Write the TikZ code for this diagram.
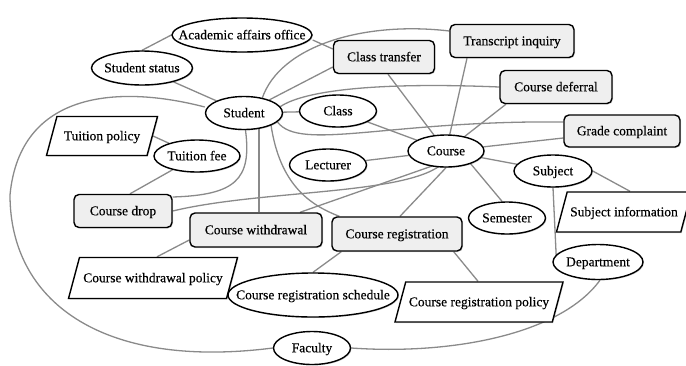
\documentclass[tikz,border=0pt]{standalone}
\usepackage{fontspec}
\setmainfont{Liberation Serif}
\newfontfamily\dfont[FakeBold=0.35]{Liberation Serif}
\usetikzlibrary{shapes.geometric,shadows,backgrounds,calc}
\definecolor{edgegray}{HTML}{8A8A8A}
\definecolor{boxgray}{HTML}{EFEFEF}
\newcommand\zt[1]{\makebox[0pt]{\raisebox{-4.3pt}[0pt][0pt]{#1}}}
\begin{document}
\begin{tikzpicture}[x=1pt,y=1pt,
 font=\dfont\fontsize{13.5}{16}\selectfont,
 base/.style={draw=black, line width=1.4pt, inner sep=0pt, fill=white,
   drop shadow={shadow xshift=1pt, shadow yshift=-1pt, opacity=0.3}},
 ent/.style={base, ellipse},
 act/.style={base, rectangle, rounded corners=5pt, fill=boxgray},
 doc/.style={base, trapezium, trapezium left angle=75, trapezium right angle=105,
   trapezium stretches body, text height=10.6pt, text depth=2pt, inner xsep=3pt},
 edge/.style={draw=edgegray, line width=1.3pt}
]
\useasboundingbox (0,0) rectangle (686,-365);

\node[ent, minimum width=140pt, minimum height=34pt] (aao) at (242,-35) {\zt{Academic affairs office}};
\node[ent, minimum width=101pt, minimum height=34pt] (status) at (142,-68) {\zt{Student status}};
\node[ent, minimum width=77pt, minimum height=33pt] (student) at (244,-113) {\zt{Student}};
\node[act, minimum width=101pt, minimum height=33pt] (ctrans) at (384,-57) {\zt{Class transfer}};
\node[act, minimum width=124pt, minimum height=33pt] (tinq) at (512,-41) {\zt{Transcript inquiry}};
\node[act, minimum width=112pt, minimum height=33pt] (cdef) at (556,-87) {\zt{Course deferral}};
\node[ent, minimum width=77pt, minimum height=32pt] (class) at (338,-111) {\zt{Class}};
\node[act, minimum width=116pt, minimum height=32pt] (grade) at (622,-131) {\zt{Grade complaint}};
\node[doc, minimum width=111pt, inner ysep=13.2pt] (tpol) at (102,-136) {Tuition policy};
\node[ent, minimum width=86pt, minimum height=32pt] (tfee) at (197,-156) {\zt{Tuition fee}};
\node[ent, minimum width=77pt, minimum height=32pt] (lect) at (328,-165) {\zt{Lecturer}};
\node[ent, minimum width=76pt, minimum height=32pt] (course) at (446,-151) {\zt{Course}};
\node[ent, minimum width=78pt, minimum height=32pt] (subject) at (553,-171) {\zt{Subject}};
\node[act, minimum width=98pt, minimum height=33pt] (cdrop) at (123,-211) {\zt{Course drop}};
\node[ent, minimum width=77pt, minimum height=32pt] (sem) at (507,-218) {\zt{Semester}};
\node[doc, minimum width=124pt, inner ysep=13.7pt] (sinfo) at (624,-212) {Subject information};
\node[act, minimum width=132pt, minimum height=34pt] (cwd) at (256,-230) {\zt{Course withdrawal}};
\node[act, minimum width=130pt, minimum height=34pt] (creg) at (397,-234) {\zt{Course registration}};
\node[ent, minimum width=90pt, minimum height=35pt] (dept) at (598,-262) {\zt{Department}};
\node[doc, minimum width=169pt, inner ysep=14.2pt] (cwdp) at (153,-278) {Course withdrawal policy};
\node[ent, minimum width=170pt, minimum height=44pt] (crs) at (313,-295) {\zt{Course registration schedule}};
\node[doc, minimum width=168pt, inner ysep=13.7pt] (crp) at (479,-302) {Course registration policy};
\node[ent, minimum width=77pt, minimum height=33pt] (fac) at (312,-348) {\zt{Faculty}};
\coordinate (loopL) at (10,-195);

\begin{pgfonlayer}{background}
\draw[edge] (status.north) -- (aao.west);
\draw[edge] ([yshift=-5pt]aao.east) -- ([yshift=8pt]ctrans.west);
\draw[edge] (status) -- (student);
\draw[edge] ([xshift=18pt,yshift=-3pt]student.north) .. controls (280,-45) and (365,-21) .. ([yshift=10pt]tinq.west);
\draw[edge] (student) -- ([yshift=-10pt]ctrans.west);
\draw[edge] (student.10) .. controls (305,-90) and (380,-82) .. (cdef.west);
\draw[edge] (student) -- (class);
\draw[edge] (student.-15) .. controls (300,-152) and (390,-120) .. ([yshift=9pt]grade.west);
\draw[edge] (student.-85) .. controls (252,-180) and (235,-195) .. ([yshift=14pt]cdrop.east);
\draw[edge] (tfee) -- ([xshift=7pt]cdrop.north);
\draw[edge] (tpol.east) -- (tfee);
\draw[edge] ([xshift=15pt]student.center) -- ([xshift=3pt]cwd.north);
\draw[edge] ([xshift=27pt,yshift=-12pt]student.center) .. controls (280,-185) and (310,-205) .. ([xshift=8pt]creg.north west);
\draw[edge] ([yshift=6pt]student.west) .. controls (120,-85) and (20,-90) .. (loopL) .. controls (10,-300) and (100,-370) .. (fac.west);
\draw[edge] (fac.east) .. controls (450,-355) and (560,-335) .. ([xshift=2pt]dept.south);
\draw[edge] (subject.south) -- ([xshift=4pt,yshift=4pt]dept.west);
\draw[edge] (subject.east) -- ([xshift=6pt]sinfo.north);
\draw[edge] (course) -- (subject);
\draw[edge] ([xshift=14pt]course.center) -- ([xshift=-5pt]sem.north);
\draw[edge] (course.south) -- ([xshift=3pt]creg.north);
\draw[edge] (class) -- (course);
\draw[edge] ([xshift=4pt]ctrans.south) -- (course);
\draw[edge] ([xshift=-45pt]tinq.south) -- (course);
\draw[edge] ([xshift=-50pt]cdef.south) -- (course);
\draw[edge] ([yshift=-7pt]grade.west) -- (course);
\draw[edge] (lect) -- (course);
\draw[edge] ([xshift=-13pt,yshift=2pt]course.south) -- ([xshift=44pt]cwd.north);
\draw[edge] ([xshift=-6pt,yshift=2pt]course.south) .. controls (400,-195) and (260,-190) .. (cdrop.east);
\draw[edge] ([yshift=-10pt]cwd.west) -- ([xshift=4pt]cwdp.north);
\draw[edge] ([xshift=10pt]creg.south west) -- (crs.north);
\draw[edge] ([xshift=-9pt]creg.south east) -- ([xshift=-1pt]crp.north);
\end{pgfonlayer}
\end{tikzpicture}
\end{document}
